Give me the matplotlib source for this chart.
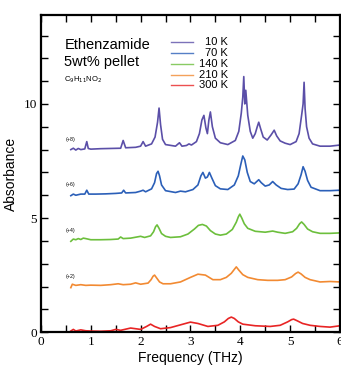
import matplotlib.pyplot as plt
from matplotlib.ticker import MultipleLocator

plt.rcParams['font.family'] = ['Liberation Sans', 'DejaVu Sans']

# spectra (raw absorbance, before the vertical offset)
f_10 = [0.60, 0.65, 0.70, 0.75, 0.80, 0.88, 0.92, 0.95, 1.00, 1.20, 1.40, 1.60, 1.65, 1.70,
        1.90, 2.00, 2.05, 2.10, 2.22, 2.29, 2.34, 2.37, 2.40, 2.44, 2.50, 2.70, 2.78, 2.83,
        2.92, 2.97, 3.02, 3.12, 3.18, 3.23, 3.27, 3.31, 3.34, 3.37, 3.40, 3.44, 3.50, 3.60,
        3.75, 3.90, 3.97, 4.02, 4.05, 4.07, 4.09, 4.11, 4.15, 4.20, 4.25, 4.30, 4.34, 4.37,
        4.41, 4.46, 4.54, 4.62, 4.68, 4.73, 4.80, 4.90, 5.00, 5.12, 5.18, 5.23, 5.26, 5.28,
        5.30, 5.33, 5.38, 5.45, 5.60, 5.80, 6.00]
a_10 = [0.00, 0.06, -0.02, 0.05, 0.00, 0.03, 0.35, 0.05, 0.02, 0.04, 0.05, 0.06, 0.40, 0.08,
        0.10, 0.15, 0.35, 0.15, 0.25, 0.55, 1.20, 1.82, 1.10, 0.45, 0.22, 0.15, 0.30, 0.15,
        0.18, 0.25, 0.20, 0.35, 0.70, 1.30, 1.50, 0.95, 0.70, 1.30, 1.65, 1.00, 0.50, 0.30,
        0.22, 0.40, 0.80, 1.60, 2.30, 3.20, 2.00, 2.60, 1.50, 0.80, 0.50, 0.70, 1.00, 1.20,
        0.90, 0.55, 0.42, 0.65, 0.85, 0.60, 0.38, 0.28, 0.22, 0.35, 0.70, 1.50, 2.00, 2.95,
        1.80, 1.00, 0.50, 0.25, 0.15, 0.15, 0.20]

f_70 = [0.60, 0.65, 0.70, 0.80, 0.88, 0.92, 0.96, 1.10, 1.30, 1.50, 1.62, 1.66, 1.70, 1.90,
        2.00, 2.05, 2.10, 2.22, 2.28, 2.32, 2.35, 2.38, 2.42, 2.50, 2.70, 2.80, 2.90, 3.05,
        3.15, 3.21, 3.25, 3.30, 3.34, 3.38, 3.43, 3.50, 3.60, 3.75, 3.88, 3.96, 4.01, 4.05,
        4.09, 4.14, 4.20, 4.28, 4.33, 4.37, 4.42, 4.50, 4.58, 4.65, 4.72, 4.82, 4.95, 5.08,
        5.16, 5.22, 5.26, 5.30, 5.35, 5.42, 5.60, 5.80, 6.00]
a_70 = [-0.02, 0.05, 0.00, 0.05, 0.05, 0.22, 0.05, 0.05, 0.06, 0.08, 0.10, 0.22, 0.10, 0.12,
        0.18, 0.22, 0.15, 0.28, 0.55, 0.95, 1.05, 0.85, 0.45, 0.20, 0.12, 0.18, 0.15, 0.25,
        0.45, 0.85, 1.00, 0.75, 0.80, 1.00, 0.75, 0.42, 0.28, 0.25, 0.45, 0.85, 1.35, 1.72,
        1.55, 1.00, 0.60, 0.50, 0.60, 0.68, 0.55, 0.40, 0.45, 0.60, 0.45, 0.30, 0.25, 0.27,
        0.50, 0.90, 1.25, 1.05, 0.65, 0.35, 0.20, 0.20, 0.22]

f_140 = [0.60, 0.65, 0.70, 0.75, 0.80, 0.85, 0.90, 1.00, 1.20, 1.40, 1.55, 1.60, 1.65, 1.80,
         1.95, 2.00, 2.08, 2.20, 2.26, 2.30, 2.33, 2.37, 2.42, 2.50, 2.60, 2.80, 2.95, 3.08,
         3.16, 3.24, 3.32, 3.40, 3.50, 3.60, 3.72, 3.84, 3.92, 3.96, 3.99, 4.03, 4.08, 4.15,
         4.30, 4.50, 4.65, 4.75, 4.90, 5.05, 5.13, 5.19, 5.23, 5.28, 5.35, 5.45, 5.60, 5.80,
         6.00]
a_140 = [-0.02, 0.08, 0.05, 0.10, 0.06, 0.12, 0.10, 0.05, 0.05, 0.06, 0.08, 0.17, 0.10, 0.12,
         0.18, 0.20, 0.15, 0.22, 0.40, 0.62, 0.70, 0.55, 0.32, 0.20, 0.15, 0.18, 0.30, 0.52,
         0.68, 0.72, 0.65, 0.45, 0.30, 0.25, 0.30, 0.50, 0.82, 1.05, 1.17, 1.00, 0.75, 0.55,
         0.42, 0.38, 0.43, 0.38, 0.33, 0.40, 0.55, 0.75, 0.83, 0.72, 0.52, 0.40, 0.33, 0.33,
         0.35]

f_210 = [0.60, 0.63, 0.70, 0.80, 0.90, 1.00, 1.20, 1.40, 1.55, 1.65, 1.80, 1.90, 2.00, 2.15,
         2.21, 2.25, 2.28, 2.32, 2.38, 2.45, 2.60, 2.80, 3.00, 3.15, 3.30, 3.45, 3.60, 3.72,
         3.82, 3.88, 3.92, 3.97, 4.05, 4.15, 4.35, 4.55, 4.75, 4.90, 5.03, 5.11, 5.16, 5.22,
         5.30, 5.40, 5.60, 5.80, 6.00]
a_210 = [-0.05, 0.10, 0.05, 0.08, 0.05, 0.06, 0.05, 0.08, 0.12, 0.08, 0.10, 0.16, 0.10, 0.15,
         0.30, 0.45, 0.50, 0.38, 0.20, 0.12, 0.12, 0.20, 0.40, 0.54, 0.50, 0.30, 0.30, 0.40,
         0.58, 0.75, 0.86, 0.72, 0.52, 0.40, 0.30, 0.27, 0.27, 0.30, 0.42, 0.57, 0.63, 0.55,
         0.40, 0.30, 0.20, 0.22, 0.20]

f_300 = [0.60, 0.65, 0.70, 0.80, 0.90, 1.00, 1.20, 1.40, 1.50, 1.60, 1.80, 1.90, 2.00, 2.12,
         2.20, 2.28, 2.40, 2.60, 2.80, 3.00, 3.15, 3.35, 3.55, 3.68, 3.76, 3.82, 3.88, 3.96,
         4.05, 4.30, 4.60, 4.80, 4.95, 5.03, 5.07, 5.14, 5.25, 5.40, 5.60, 5.80, 6.00]
a_300 = [0.05, 0.12, 0.05, 0.10, 0.06, 0.05, 0.04, 0.06, 0.12, 0.08, 0.18, 0.15, 0.12, 0.25,
         0.35, 0.25, 0.15, 0.20, 0.32, 0.44, 0.38, 0.25, 0.30, 0.45, 0.60, 0.66, 0.60, 0.45,
         0.35, 0.28, 0.25, 0.30, 0.45, 0.55, 0.57, 0.50, 0.38, 0.30, 0.25, 0.22, 0.28]

temps = ['10 K', '70 K', '140 K', '210 K', '300 K']
offsets = [8, 6, 4, 2, 0]
colors = ['#5b4fa8', '#2b5fb8', '#6cbf3c', '#f28a32', '#e82424']
freqs = [f_10, f_70, f_140, f_210, f_300]
absb = [a_10, a_70, a_140, a_210, a_300]

fig = plt.figure(figsize=(3.41, 3.65), dpi=100)
ax = fig.add_axes([0.120, 0.090, 0.877, 0.869])

for f, a, off, c in zip(freqs, absb, offsets, colors):
    ax.plot(f, [v + off for v in a], color=c, lw=1.2)

# legend drawn by hand, like the original figure
leg_y = [12.7, 12.22, 11.74, 11.26, 10.82]
for t, c, y in zip(temps, colors, leg_y):
    ax.plot([2.6, 3.05], [y, y], color=c, lw=1.0, alpha=0.8)
    ax.text(3.75, y, t, ha='right', va='center', fontsize=8)

ax.text(0.47, 12.6, 'Ethenzamide', fontsize=10.5, va='center')
ax.text(0.47, 11.85, '5wt% pellet', fontsize=10.5, va='center')
ax.text(0.47, 11.05, r'C$_9$H$_{11}$NO$_2$', fontsize=5.5, va='center')

for off in offsets[:-1]:
    ax.text(0.5, off + 0.45, '(+%d)' % off, fontsize=3.8, va='center')

ax.set_xlim(0, 6)
ax.set_ylim(0, 13.9)
ax.xaxis.set_major_locator(MultipleLocator(1))
ax.xaxis.set_minor_locator(MultipleLocator(0.5))
ax.yaxis.set_major_locator(MultipleLocator(5))
ax.yaxis.set_minor_locator(MultipleLocator(1))
ax.tick_params(which='both', direction='in', top=True, right=True, width=1)
ax.tick_params(which='major', length=5, labelsize=9.5, pad=3)
ax.tick_params(which='minor', length=5)
for lab in ax.get_xticklabels() + ax.get_yticklabels():
    lab.set_family('Liberation Serif')
for s in ax.spines.values():
    s.set_linewidth(1.6)

ax.set_xlabel('Frequency (THz)', fontsize=10, labelpad=2)
ax.set_ylabel('Absorbance', fontsize=10, labelpad=4)

fig.savefig('out.png', dpi=100)
